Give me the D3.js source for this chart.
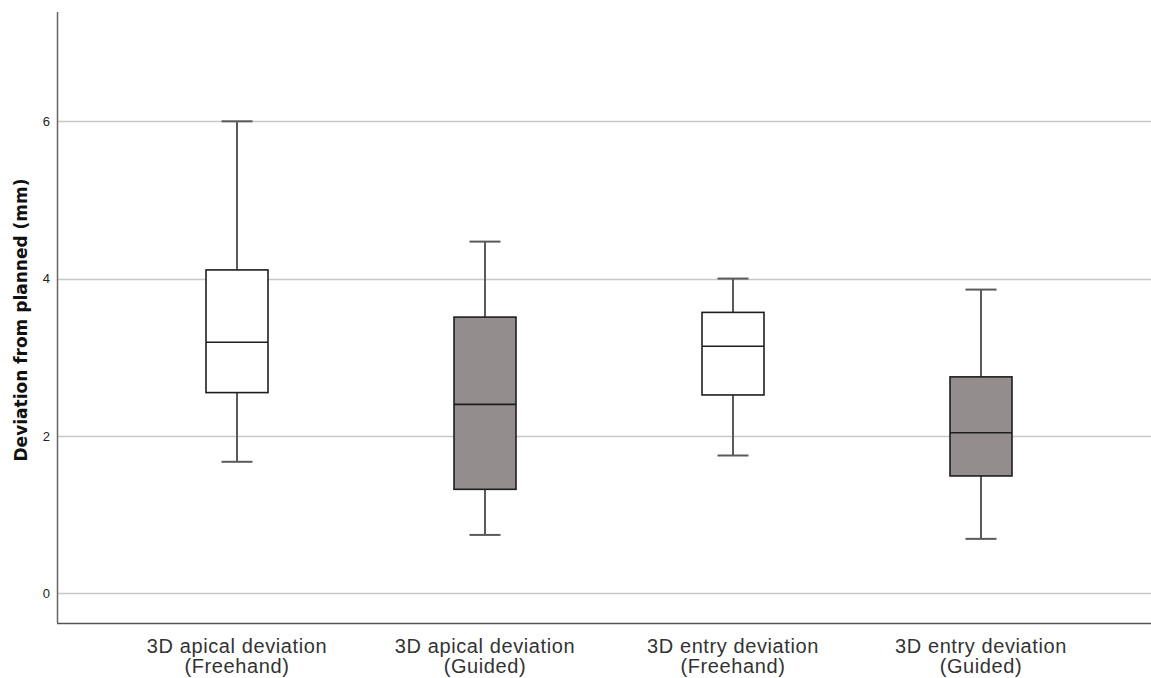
<!DOCTYPE html>
<html><head><meta charset="utf-8">
<script src="https://cdn.jsdelivr.net/npm/d3@7"></script>
<style>body{margin:0;background:#fff;}svg{display:block;}</style>
</head><body>
<svg id="c" width="1151" height="678"></svg>
<script>
const categories = ["3D apical deviation|(Freehand)", "3D apical deviation|(Guided)", "3D entry deviation|(Freehand)", "3D entry deviation|(Guided)"];
const whiskerLow  = [1.67, 0.74, 1.75, 0.69];
const q1          = [2.55, 1.32, 2.52, 1.49];
const median      = [3.19, 2.40, 3.14, 2.04];
const q3          = [4.11, 3.51, 3.57, 2.75];
const whiskerHigh = [6.00, 4.47, 4.00, 3.86];
const boxFill     = ["#ffffff", "#938e8d", "#ffffff", "#938e8d"];
const yTicks = [0, 2, 4, 6];

(function () {
const svg = d3.select("#c");
const mLeft = 57, mRight = 1151, mTop = 12, mBottom = 623;
const y = d3.scaleLinear().domain([-0.38, 7.39]).range([mBottom, mTop]);
const x = d3.scalePoint().domain(categories).range([237, 981]);
const boxW = 62, capW = 31;

// gridlines
svg.append("g").selectAll("line").data(yTicks).join("line")
  .attr("x1", mLeft).attr("x2", mRight)
  .attr("y1", d => Math.round(y(d)) + 0.5).attr("y2", d => Math.round(y(d)) + 0.5)
  .attr("stroke", "#c8c8c8").attr("stroke-width", 1.5);

// y axis
const yAxis = d3.axisLeft(y).tickValues(yTicks).tickSize(0).tickPadding(7);
const gy = svg.append("g").attr("transform", `translate(${mLeft},0)`).call(yAxis);
gy.select(".domain").remove();
gy.selectAll("text").attr("font-family", "Liberation Sans, Arial, sans-serif").attr("font-size", 13).attr("fill", "#222");
svg.append("line").attr("x1", mLeft + 0.5).attr("x2", mLeft + 0.5).attr("y1", mTop).attr("y2", mBottom)
  .attr("stroke", "#666").attr("stroke-width", 1.5);

// x axis
const xAxis = d3.axisBottom(x).tickSize(0).tickFormat("");
const gx = svg.append("g").attr("transform", `translate(0,${mBottom})`).call(xAxis);
gx.select(".domain").remove();
svg.append("line").attr("x1", mLeft).attr("x2", mRight).attr("y1", mBottom + 0.5).attr("y2", mBottom + 0.5)
  .attr("stroke", "#555").attr("stroke-width", 1.5);

// x labels
categories.forEach(c => {
  const parts = c.split("|");
  const t = svg.append("text").attr("text-anchor", "middle")
    .attr("font-family", "Liberation Sans, Arial, sans-serif").attr("font-size", 20)
    .attr("letter-spacing", 0.6).attr("fill", "#333");
  parts.forEach((p, i) => {
    t.append("tspan").attr("x", x(c)).attr("y", 653 + i * 20).text(p);
  });
});

// y title
svg.append("text").attr("transform", `translate(27,320) rotate(-90)`)
  .attr("text-anchor", "middle").attr("font-family", "DejaVu Sans, Verdana, sans-serif")
  .attr("font-weight", "bold").attr("font-size", 17).attr("fill", "#111")
  .text("Deviation from planned (mm)");

// boxes
const g = svg.append("g");
categories.forEach((c, i) => {
  const cx = x(c);
  g.append("line").attr("x1", cx).attr("x2", cx).attr("y1", y(whiskerHigh[i])).attr("y2", y(q3[i]))
    .attr("stroke", "#5a5a5a").attr("stroke-width", 2);
  g.append("line").attr("x1", cx).attr("x2", cx).attr("y1", y(q1[i])).attr("y2", y(whiskerLow[i]))
    .attr("stroke", "#5a5a5a").attr("stroke-width", 2);
  [whiskerHigh[i], whiskerLow[i]].forEach(v => {
    g.append("line").attr("x1", cx - capW / 2).attr("x2", cx + capW / 2).attr("y1", y(v)).attr("y2", y(v))
      .attr("stroke", "#5a5a5a").attr("stroke-width", 2);
  });
  g.append("rect").attr("x", cx - boxW / 2).attr("width", boxW)
    .attr("y", y(q3[i])).attr("height", y(q1[i]) - y(q3[i]))
    .attr("fill", boxFill[i]).attr("stroke", "#1e1e1e").attr("stroke-width", 1.6);
  g.append("line").attr("x1", cx - boxW / 2).attr("x2", cx + boxW / 2).attr("y1", y(median[i])).attr("y2", y(median[i]))
    .attr("stroke", "#1e1e1e").attr("stroke-width", 1.6);
});
})();
</script>
</body></html>
